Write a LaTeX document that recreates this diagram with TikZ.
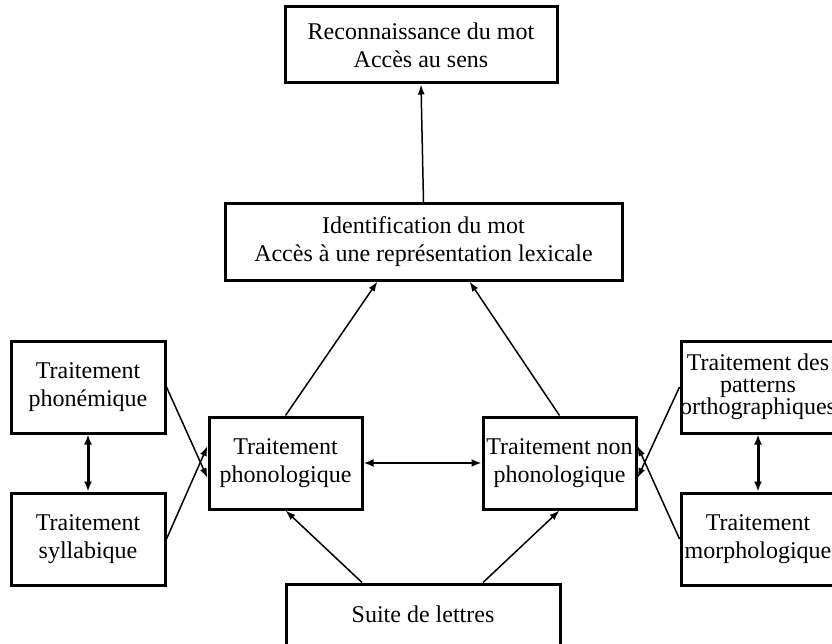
\documentclass[tikz,border=0pt]{standalone}
\usepackage{fontspec}
\setmainfont{Liberation Serif}
\usetikzlibrary{arrows.meta}
\begin{document}
\begin{tikzpicture}[x=1pt,y=-1pt,
  box/.style={draw,line width=3pt,align=center,inner sep=0pt,
    font=\fontsize{24}{28.5}\selectfont},
  arr/.style={line width=1.5pt,-{Latex[length=10pt,width=7pt]}},
  darr/.style={line width=3pt,{Latex[length=10pt,width=8pt]}-{Latex[length=10pt,width=8pt]}},
  harr/.style={line width=2pt,{Latex[length=10pt,width=8pt]}-{Latex[length=10pt,width=8pt]}}]
\useasboundingbox (0,0) rectangle (832,644);
\node[box,minimum width=272pt,minimum height=76pt,font=\fontsize{24}{28}\selectfont] (top) at (421,45) {Reconnaissance du mot\\Accès au sens};
\node[box,minimum width=397pt,minimum height=76pt,font=\fontsize{24}{28}\selectfont] (ident) at (423.5,242) {Identification du mot\\Accès à une représentation lexicale};
\node[box,minimum width=153pt,minimum height=92pt] (phon) at (285.5,463) {Traitement\\phonologique};
\node[box,minimum width=153pt,minimum height=92pt] (nonphon) at (559.5,463) {Traitement non\\phonologique};
\node[box,minimum width=274pt,minimum height=76pt] (suite) at (423,622) {};
\node[font=\fontsize{24}{28}\selectfont] (suitetxt) at (423,614) {Suite de lettres};
\node[box,minimum width=154pt,minimum height=92pt] (phonem) at (88,387) {Traitement\\phonémique};
\node[box,minimum width=154pt,minimum height=92pt] (syll) at (88,539) {Traitement\\syllabique};
\node[box,minimum width=154pt,minimum height=92pt,font=\fontsize{24}{22}\selectfont] (pat) at (758,387) {Traitement des\\patterns\\\makebox[0pt]{orthographiques}};
\node[box,minimum width=154pt,minimum height=92pt] (morph) at (758,539) {Traitement\\\makebox[0pt]{morphologique}};

\draw[arr] (ident.north) -- (top.south);
\draw[arr] (phon.north) -- ([xshift=-46pt]ident.south);
\draw[arr] (nonphon.north) -- ([xshift=46pt]ident.south);
\draw[harr] (phon.east) -- (nonphon.west);
\draw[arr] ([xshift=-61pt]suite.north) -- (phon.south);
\draw[arr] ([xshift=60pt]suite.north) -- (nonphon.south);
\draw[arr] (phonem.east) -- ([yshift=-15pt]phon.west);
\draw[arr] (syll.east) -- ([yshift=17pt]phon.west);
\draw[arr] (pat.west) -- ([yshift=-15pt]nonphon.east);
\draw[arr] (morph.west) -- ([yshift=17pt]nonphon.east);
\draw[darr] (phonem.south) -- (syll.north);
\draw[darr] (pat.south) -- (morph.north);
\end{tikzpicture}
\end{document}
